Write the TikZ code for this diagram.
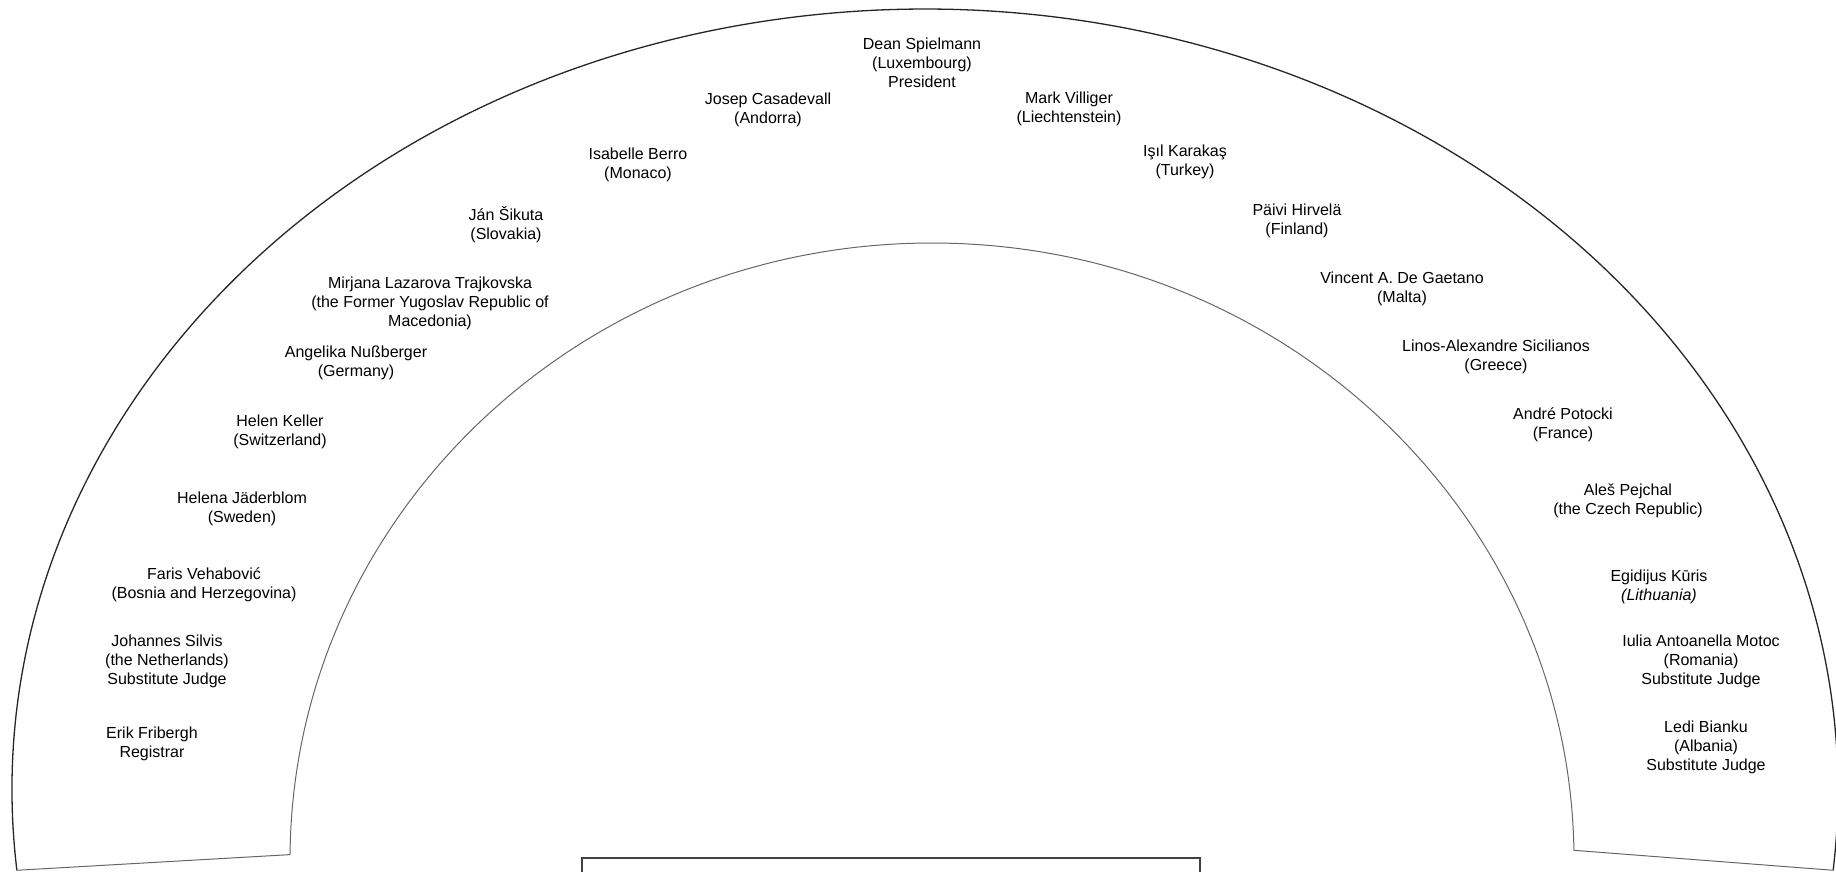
\documentclass[tikz,border=0pt]{standalone}
\usepackage{fontspec}
\setmainfont{Liberation Sans}

\begin{document}
\begin{tikzpicture}[x=1pt,y=-1pt,
    judge/.style={align=center,inner sep=0pt,font=\fontsize{16}{19}\selectfont},
    outerwall/.style={line width=1.3pt,black!85},
    innerwall/.style={line width=1pt,black!60},
    table/.style={line width=1.2pt,black!75}]
    \useasboundingbox (0,0) rectangle (1836,872);
    \clip (0,0) rectangle (1836,872);

    \path (925,790) ++(174.1:913 and 781) coordinate (outL);
    \path (932,860) ++(180.5:642 and 617) coordinate (inL);
    \draw[outerwall] (outL) arc[start angle=174.1,end angle=365.9,x radius=913,y radius=781] coordinate (outR);
    \draw[innerwall] (inL) arc[start angle=180.5,end angle=359.1,x radius=642,y radius=617] coordinate (inR);
    \draw[innerwall] (outL) -- (inL);
    \draw[innerwall] (inR) -- (outR);
    \draw[table] (582,858) rectangle (1200,900);

    \node[judge] (spielmann) at (922,63) {Dean Spielmann\\(Luxembourg)\\President};
    \node[judge] (casadevall) at (768,110) {Josep Casadevall\\(Andorra)};
    \node[judge] (villiger) at (1069,109) {Mark Villiger\\(Liechtenstein)};
    \node[judge] (berro) at (638,165) {Isabelle Berro\\(Monaco)};
    \node[judge] (karakas) at (1185,162) {Işıl Karakaş\\(Turkey)};
    \node[judge] (sikuta) at (506,225) {Ján Šikuta\\(Slovakia)};
    \node[judge] (hirvela) at (1297,221) {Päivi Hirvelä\\(Finland)};
    \node[judge] (trajkovska) at (430,303) {Mirjana Lazarova Trajkovska\\(the Former Yugoslav Republic of\\Macedonia)};
    \node[judge] (degaetano) at (1402,289) {Vincent A. De Gaetano\\(Malta)};
    \node[judge] (nussberger) at (356,363) {Angelika Nußberger\\(Germany)};
    \node[judge] (sicilianos) at (1496,357) {Linos-Alexandre Sicilianos\\(Greece)};
    \node[judge] (keller) at (280,432) {Helen Keller\\(Switzerland)};
    \node[judge] (potocki) at (1563,425) {André Potocki\\(France)};
    \node[judge] (jaderblom) at (242,509) {Helena Jäderblom\\(Sweden)};
    \node[judge] (pejchal) at (1628,501) {Aleš Pejchal\\(the Czech Republic)};
    \node[judge] (vehabovic) at (204,585) {Faris Vehabović\\(Bosnia and Herzegovina)};
    \node[judge] (kuris) at (1659,587) {Egidijus Kūris\\\textit{(Lithuania)}};
    \node[judge] (silvis) at (167,661) {Johannes Silvis\\(the Netherlands)\\Substitute Judge};
    \node[judge] (motoc) at (1701,661) {Iulia Antoanella Motoc\\(Romania)\\Substitute Judge};
    \node[judge] (fribergh) at (152,744) {Erik Fribergh\\Registrar};
    \node[judge] (bianku) at (1706,747) {Ledi Bianku\\(Albania)\\Substitute Judge};
\end{tikzpicture}
\end{document}
